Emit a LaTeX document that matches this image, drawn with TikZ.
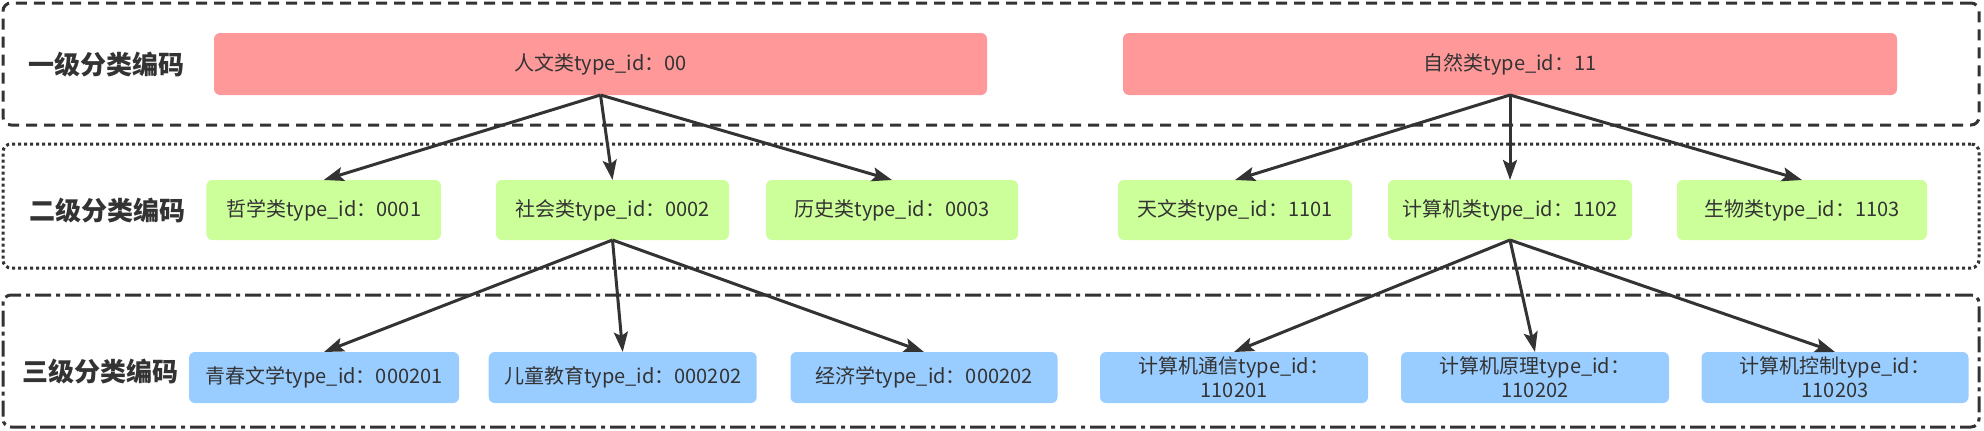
\documentclass[tikz,border=0pt]{standalone}
\usepackage{fontspec}
\setmainfont{Noto Sans CJK SC}
\usetikzlibrary{arrows.meta}
\definecolor{ink}{HTML}{333333}
\definecolor{redf}{HTML}{FF9999}
\definecolor{greenf}{HTML}{CCFF99}
\definecolor{bluef}{HTML}{99CCFF}
\begin{document}
\begin{tikzpicture}[x=1pt,y=-1pt,
  lane/.style={draw=ink, line width=3pt, rounded corners=8pt, inner sep=0pt, outer sep=0pt, minimum width=1976pt},
  lanelabel/.style={text=ink, font=\fontsize{26}{30}\selectfont\bfseries, inner sep=0pt},
  item/.style={rounded corners=6pt, inner sep=0pt, outer sep=0pt, text=ink, font=\fontsize{20}{24}\selectfont, align=center},
  lvone/.style={item, fill=redf, minimum height=62pt},
  lvtwo/.style={item, fill=greenf, minimum height=60pt},
  lvthree/.style={item, fill=bluef, minimum height=51pt},
  link/.style={draw=ink, line width=3pt, -{Stealth[length=20pt,width=14pt,inset=4pt]}}]
\useasboundingbox (0,0) rectangle (1984,431);
% lanes
\node[lane, dash pattern=on 11pt off 7pt, minimum height=122pt] (laneA) at (991,64) {};
\node[lane, dash pattern=on 3pt off 3pt, minimum height=124pt] (laneB) at (991,206) {};
\node[lane, dash pattern=on 16pt off 5pt on 4pt off 5pt, minimum height=132pt] (laneC) at (991,361) {};
% lane labels
\node[lanelabel] (labA) at (106,64.5) {一级分类编码};
\node[lanelabel] (labB) at (107,211) {二级分类编码};
\node[lanelabel] (labC) at (101,372) {三级分类编码};
% level 1
\node[lvone, minimum width=773pt] (human) at (600.5,64) {人文类type\_id：00};
\node[lvone, minimum width=774pt] (nature) at (1510,64) {自然类type\_id：11};
% level 2
\node[lvtwo, minimum width=234.5pt] (phil) at (323.7,210) {哲学类type\_id：0001};
\node[lvtwo, minimum width=233pt] (soc) at (612.5,210) {社会类type\_id：0002};
\node[lvtwo, minimum width=252pt] (hist) at (892,210) {历史类type\_id：0003};
\node[lvtwo, minimum width=234pt] (astro) at (1235,210) {天文类type\_id：1101};
\node[lvtwo, minimum width=244pt] (comp) at (1510,210) {计算机类type\_id：1102};
\node[lvtwo, minimum width=250pt] (bio) at (1802,210) {生物类type\_id：1103};
% level 3
\node[lvthree, minimum width=270pt] (youth) at (324,377.5) {青春文学type\_id：000201};
\node[lvthree, minimum width=268pt] (child) at (622.7,377.5) {儿童教育type\_id：000202};
\node[lvthree, minimum width=267pt] (econ) at (924,377.5) {经济学type\_id：000202};
\node[lvthree, minimum width=268pt] (comm) at (1234,377.5) {计算机通信type\_id：\\110201};
\node[lvthree, minimum width=268pt] (prin) at (1535,377.5) {计算机原理type\_id：\\110202};
\node[lvthree, minimum width=267pt] (ctrl) at (1835,377.5) {计算机控制type\_id：\\110203};
% connectors
\draw[link] (human.south) -- (phil.north);
\draw[link] (human.south) -- (soc.north);
\draw[link] (human.south) -- (hist.north);
\draw[link] (nature.south) -- (astro.north);
\draw[link] (nature.south) -- (comp.north);
\draw[link] (nature.south) -- (bio.north);
\draw[link] (soc.south) -- (youth.north);
\draw[link] (soc.south) -- (child.north);
\draw[link] (soc.south) -- (econ.north);
\draw[link] (comp.south) -- (comm.north);
\draw[link] (comp.south) -- (prin.north);
\draw[link] (comp.south) -- (ctrl.north);
\end{tikzpicture}
\end{document}
